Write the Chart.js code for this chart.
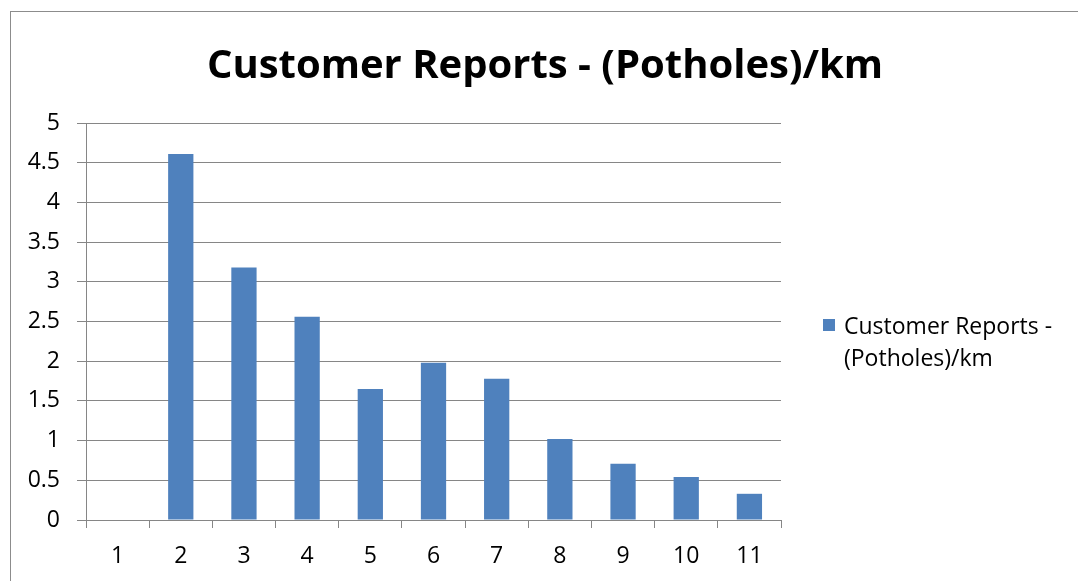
<!DOCTYPE html>
<html>
<head>
<meta charset="utf-8">
<script src="https://cdn.jsdelivr.net/npm/chart.js@4"></script>
<style>
  html, body { margin: 0; padding: 0; background: #fff; overflow: hidden; }
  #wrap { position: relative; width: 1078px; height: 581px; }
  #frame { position: absolute; left: 10px; top: 11px; width: 1100px; height: 600px; border: 1px solid #8c8c8c; box-sizing: border-box; }
  #chart { position: absolute; left: 0; top: 0; }
  #title { position: absolute; left: 10px; width: 1070px; top: 35px; text-align: center; font-family: "Open Sans", sans-serif; font-weight: bold; font-size: 40px; line-height: 56px; color: #000; }
  #legend { position: absolute; left: 823px; top: 309px; font-family: "Open Sans", sans-serif; font-size: 23px; line-height: 32px; color: #000; }
  #legend .sw { position: absolute; left: 0; top: 10px; width: 12px; height: 12px; }
  #legend .txt { margin-left: 21px; width: 240px; }
</style>
</head>
<body>
<div id="wrap">
  <div id="frame"></div>
  <canvas id="chart" width="1078" height="581"></canvas>
  <div id="title"></div>
  <div id="legend"></div>
</div>
<script>
'use strict';

const categories = ['1', '2', '3', '4', '5', '6', '7', '8', '9', '10', '11'];
const reports = [0, 4.61, 3.18, 2.56, 1.65, 1.98, 1.78, 1.02, 0.71, 0.54, 0.33];
const seriesName = 'Customer Reports - (Potholes)/km';
const yTicks = [0, 0.5, 1, 1.5, 2, 2.5, 3, 3.5, 4, 4.5, 5];

const BAR = '#4f81bd';
const GRID = '#868686';
const FONT = '"Open Sans", sans-serif';

// ─── Chart ────────────────────────────────────────────────────────────────────

const chart = new Chart(document.getElementById('chart'), {
  type: 'bar',
  data: {
    labels: categories,
    datasets: [{
      label: seriesName,
      data: reports,
      backgroundColor: BAR,
      borderWidth: 0,
      barPercentage: 0.4,
      categoryPercentage: 1,
    }],
  },
  options: {
    responsive: false,
    animation: false,
    layout: { padding: { left: 0, right: 1078 - 781, top: 123, bottom: 0 } },
    plugins: {
      legend: { display: false },
      tooltip: { enabled: false },
      title: { display: false },
    },
    scales: {
      x: {
        grid: { display: true, drawOnChartArea: false, drawTicks: true, tickLength: 8, color: GRID, offset: true },
        border: { display: true, color: GRID, width: 1 },
        ticks: { color: '#000', font: { family: FONT, size: 23 }, padding: 15 },
        afterFit: (s) => { s.height = 581 - 520; },
      },
      y: {
        min: 0,
        max: 5,
        afterBuildTicks: (s) => { s.ticks = yTicks.map(v => ({ value: v })); },
        grid: { color: GRID, tickLength: 9 },
        border: { display: true, color: GRID, width: 1 },
        ticks: { color: '#000', font: { family: FONT, size: 23 }, padding: 17, callback: (v) => String(v) },
        afterFit: (s) => { s.width = 86; },
      },
    },
  },
});

// ─── Title / legend ───────────────────────────────────────────────────────────

const ds = chart.data.datasets[0];
document.getElementById('title').textContent = seriesName;
document.getElementById('legend').innerHTML =
  `<span class="sw" style="background:${ds.backgroundColor}"></span>` +
  `<div class="txt">${ds.label}</div>`;
</script>
</body>
</html>
